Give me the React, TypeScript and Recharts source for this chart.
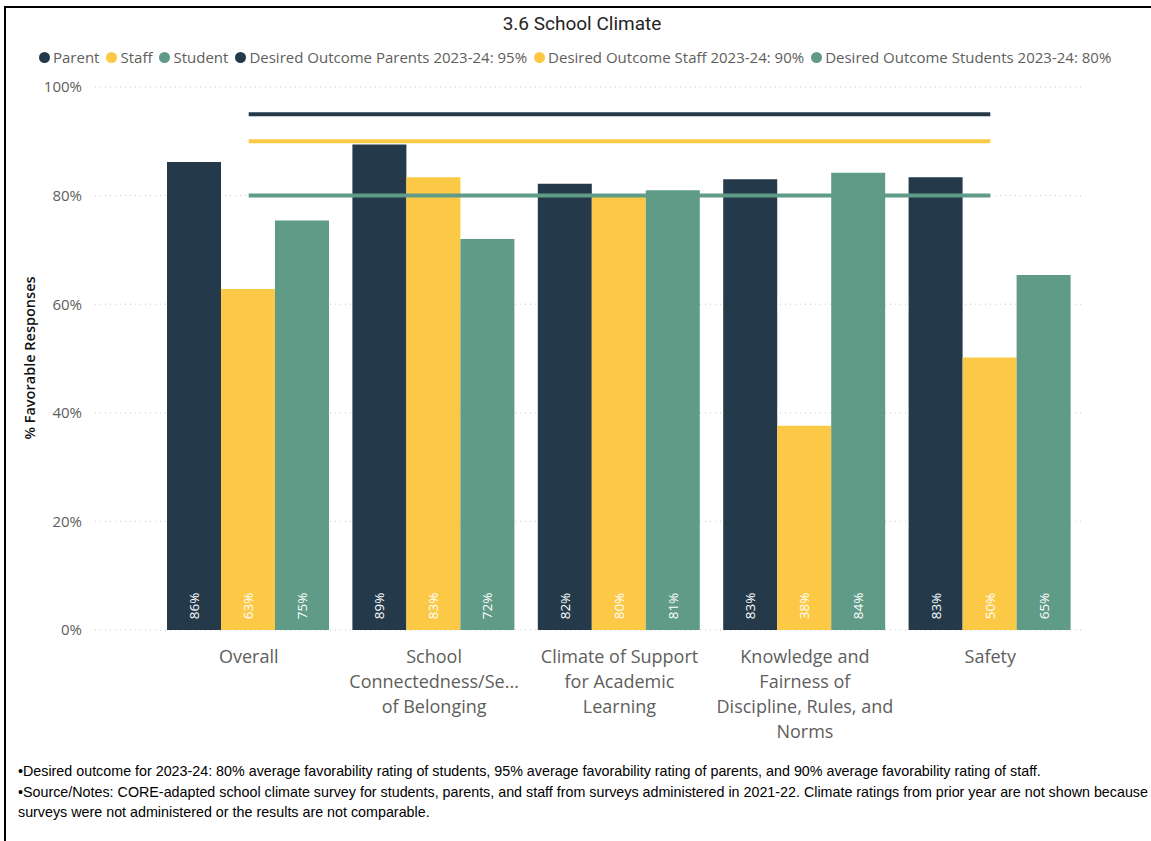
import React from 'react';
import { ComposedChart, Bar, Line, XAxis, YAxis, CartesianGrid, LabelList } from 'recharts';

const categories = [
  'Overall',
  'School Connectedness/Sense of Belonging',
  'Climate of Support for Academic Learning',
  'Knowledge and Fairness of Discipline, Rules, and Norms',
  'Safety',
];
const tickLines = [
  ['Overall'],
  ['School', 'Connectedness/Se...', 'of Belonging'],
  ['Climate of Support', 'for Academic', 'Learning'],
  ['Knowledge and', 'Fairness of', 'Discipline, Rules, and', 'Norms'],
  ['Safety'],
];
const parentValues = [86.2, 89.4, 82.2, 83.0, 83.4];
const staffValues = [62.8, 83.4, 79.8, 37.6, 50.2];
const studentValues = [75.4, 72.0, 81.0, 84.2, 65.4];
const parentTarget = 95;
const staffTarget = 90;
const studentTarget = 80;
const yTicks = [0, 20, 40, 60, 80, 100];

const seriesNames = [
  'Parent',
  'Staff',
  'Student',
  'Desired Outcome Parents 2023-24: 95%',
  'Desired Outcome Staff 2023-24: 90%',
  'Desired Outcome Students 2023-24: 80%',
];
const footnotes = [
  '\u2022Desired outcome for 2023-24: 80% average favorability rating of students, 95% average favorability rating of parents, and 90% average favorability rating of staff.',
  '\u2022Source/Notes: CORE-adapted school climate survey for students, parents, and staff from surveys administered in 2021-22. Climate ratings from prior year are not shown because surveys were not administered or the results are not comparable.',
];

const C_PARENT = '#243A4A';
const C_STAFF = '#FCC946';
const C_STUDENT = '#5F9B87';
const seriesColors = [C_PARENT, C_STAFF, C_STUDENT, C_PARENT, C_STAFF, C_STUDENT];

const data = categories.map((c, i) => ({
  name: c,
  parent: parentValues[i],
  staff: staffValues[i],
  student: studentValues[i],
  parentTarget,
  staffTarget,
  studentTarget,
}));

const FONT = '"Open Sans", "Noto Sans", sans-serif';

const XTick = (props: any) => {
  const { x, y, payload } = props;
  const lines = tickLines[payload.index] || [payload.value];
  return (
    <text x={x} y={y} textAnchor="middle" fill="#605E5C" fontFamily={FONT} fontSize={18}>
      {lines.map((l: string, i: number) => (
        <tspan key={i} x={x} y={y + 25 + i * 25}>
          {l}
        </tspan>
      ))}
    </text>
  );
};

const BarLabel = (props: any) => {
  const { x, y, width, height, value } = props;
  const cx = x + width / 2;
  const cy = y + height - 24;
  return (
    <text
      x={cx}
      y={cy}
      transform={`rotate(-90 ${cx} ${cy})`}
      textAnchor="middle"
      dominantBaseline="central"
      fill="#FFFFFF"
      fontFamily={FONT}
      fontSize={13.5}
    >
      {`${Math.round(value)}%`}
    </text>
  );
};

export default function App() {
  return (
    <div
      style={{
        position: 'absolute',
        left: 0,
        top: 0,
        width: 1151,
        height: 841,
        background: '#fff',
        overflow: 'hidden',
      }}
    >
      <div
        style={{
          position: 'absolute',
          left: 4,
          top: 6,
          width: 1151,
          height: 841,
          borderTop: '2px solid #000',
          borderLeft: '2px solid #000',
        }}
      />
      <div
        style={{
          position: 'absolute',
          left: 0,
          width: 1164,
          top: 12,
          textAlign: 'center',
          fontFamily: 'Roboto, sans-serif',
          fontSize: 19,
          color: '#252423',
        }}
      >
        3.6 School Climate
      </div>
      <div
        style={{
          position: 'absolute',
          left: 39,
          top: 47,
          display: 'flex',
          alignItems: 'center',
          whiteSpace: 'nowrap',
          fontFamily: FONT,
          fontSize: 15,
          color: '#605E5C',
        }}
      >
        {seriesNames.map((n, i) => (
          <div key={i} style={{ display: 'flex', alignItems: 'center', marginRight: 7 }}>
            <span
              style={{
                display: 'inline-block',
                width: 11,
                height: 11,
                borderRadius: 6,
                background: seriesColors[i],
                marginRight: 3,
              }}
            />
            <span>{n}</span>
          </div>
        ))}
      </div>
      <div
        style={{
          position: 'absolute',
          left: 29,
          top: 358,
          transform: 'translate(-50%, -50%) rotate(-90deg)',
          whiteSpace: 'nowrap',
          fontFamily: FONT,
          fontSize: 14.5,
          fontWeight: 600,
          color: '#111',
        }}
      >
        % Favorable Responses
      </div>
      <div style={{ position: 'absolute', left: 0, top: 0 }}>
        <ComposedChart
          width={1151}
          height={745}
          data={data}
          margin={{ top: 87, right: 66, bottom: 0, left: 0 }}
          barCategoryGap={11}
          barGap={0}
        >
          <CartesianGrid
            horizontal
            vertical={false}
            stroke="#C8C6C4"
            strokeDasharray="1 4"
          />
          <XAxis
            dataKey="name"
            axisLine={false}
            tickLine={false}
            height={115}
            interval={0}
            padding={{ left: 61, right: 2 }}
            tick={<XTick />}
          />
          <YAxis
            domain={[0, 100]}
            ticks={yTicks}
            width={95}
            axisLine={false}
            tickLine={false}
            tickSize={0}
            tickMargin={13}
            tickFormatter={(v: number) => `${v}%`}
            tick={{ fill: '#605E5C', fontSize: 15, fontFamily: FONT }}
          />
          <Bar dataKey="parent" name={seriesNames[0]} fill={C_PARENT} isAnimationActive={false}>
            <LabelList dataKey="parent" content={<BarLabel />} />
          </Bar>
          <Bar dataKey="staff" name={seriesNames[1]} fill={C_STAFF} isAnimationActive={false}>
            <LabelList dataKey="staff" content={<BarLabel />} />
          </Bar>
          <Bar dataKey="student" name={seriesNames[2]} fill={C_STUDENT} isAnimationActive={false}>
            <LabelList dataKey="student" content={<BarLabel />} />
          </Bar>
          <Line
            dataKey="parentTarget"
            name={seriesNames[3]}
            stroke={C_PARENT}
            strokeWidth={4}
            dot={false}
            activeDot={false}
            isAnimationActive={false}
          />
          <Line
            dataKey="staffTarget"
            name={seriesNames[4]}
            stroke={C_STAFF}
            strokeWidth={4}
            dot={false}
            activeDot={false}
            isAnimationActive={false}
          />
          <Line
            dataKey="studentTarget"
            name={seriesNames[5]}
            stroke={C_STUDENT}
            strokeWidth={4}
            dot={false}
            activeDot={false}
            isAnimationActive={false}
          />
        </ComposedChart>
      </div>
      <div
        style={{
          position: 'absolute',
          left: 18,
          top: 761,
          width: 1132,
          fontFamily: '"Liberation Sans", Arial, sans-serif',
          fontSize: 14.3,
          lineHeight: '20.5px',
          color: '#000',
        }}
      >
        {footnotes.map((f, i) => (
          <div key={i}>{f}</div>
        ))}
      </div>
    </div>
  );
}
